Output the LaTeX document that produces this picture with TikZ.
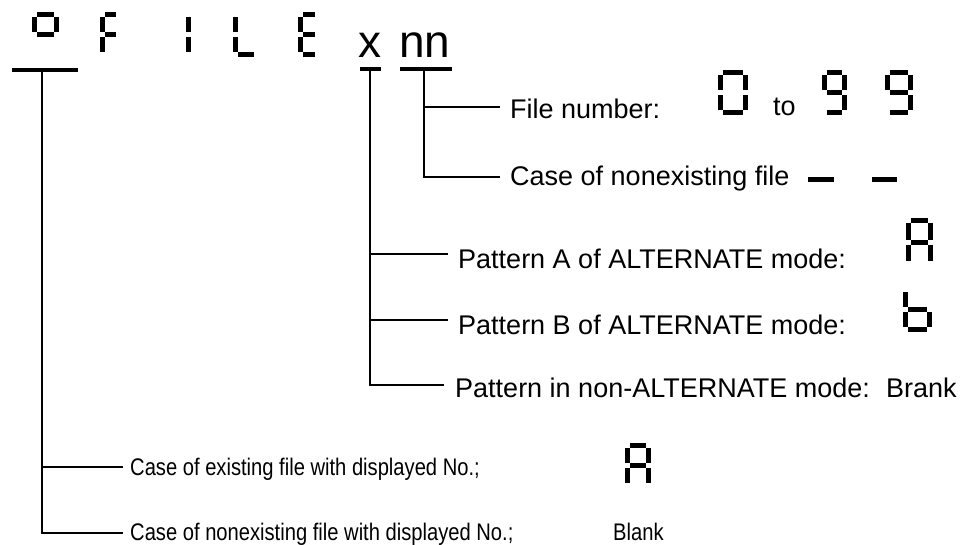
\documentclass[tikz,border=0pt]{standalone}
\usepackage{graphicx}
\usepackage{fontspec}
\setmainfont{Liberation Sans}
\tikzset{
  lbl/.style={anchor=base west, inner sep=0pt, font=\fontsize{27}{30}\selectfont},
  lblsm/.style={anchor=base west, inner sep=0pt, font=\fontsize{24}{28}\selectfont},
  big/.style={anchor=base, inner sep=0pt, font=\fontsize{46}{50}\selectfont},
  conn/.style={line width=2pt},
  ubar/.style={line width=4pt},
  segline/.style={line width=5pt},
  dashseg/.style={line width=5pt},
}
\newcommand\narrow[1]{\scalebox{0.84}[1]{#1}}
\def\sg{2.5}
\newcommand\SSDa{\draw[segline] (\sx+\sg,\sy) -- (\sx+\sw-\sg,\sy);}
\newcommand\SSDb{\draw[segline] (\sx+\sw,\sy+\sg) -- (\sx+\sw,\sy+0.5*\sh-\sg);}
\newcommand\SSDc{\draw[segline] (\sx+\sw,\sy+0.5*\sh+\sg) -- (\sx+\sw,\sy+\sh-\sg);}
\newcommand\SSDd{\draw[segline] (\sx+\sg,\sy+\sh) -- (\sx+\sw-\sg,\sy+\sh);}
\newcommand\SSDe{\draw[segline] (\sx,\sy+0.5*\sh+\sg) -- (\sx,\sy+\sh-\sg);}
\newcommand\SSDf{\draw[segline] (\sx,\sy+\sg) -- (\sx,\sy+0.5*\sh-\sg);}
\newcommand\SSDg{\draw[segline] (\sx+\sg,\sy+0.5*\sh) -- (\sx+\sw-\sg,\sy+0.5*\sh);}
\newcommand\ssd[5]{\def\sx{#1}\def\sy{#2}\def\sw{#3}\def\sh{#4}%
  \foreach \s in {#5}{\csname SSD\s\endcsname}}
\begin{document}
\begin{tikzpicture}[x=1pt,y=-1pt]
\useasboundingbox (0,0) rectangle (960,544);
% title characters
\ssd{34.5}{14.5}{22}{40}{a,b,f,g}
\ssd{102.5}{14.5}{16}{40}{a,f,e,g}
\ssd{188.5}{14.5}{0}{40}{f,e}
\ssd{235.5}{14.5}{21}{40}{f,e,d}
\ssd{300.5}{14.5}{17}{40}{a,f,e,g,d}
\node[big] (xch) at (370,57) {x};
\node[big] (nnch) at (425,57) {nn};
% underlines
\coordinate (obarL) at (12,70);  \coordinate (obarR) at (78,70);
\coordinate (xbarL) at (360,69); \coordinate (xbarR) at (381,69);
\coordinate (nbarL) at (400,69); \coordinate (nbarR) at (452,69);
\draw[ubar] (obarL) -- (obarR);
\draw[ubar] (xbarL) -- (xbarR);
\draw[ubar] (nbarL) -- (nbarR);
\coordinate (oroot) at (42,70);
\coordinate (xroot) at (370,69);
\coordinate (nroot) at (424,69);
% branch ends
\coordinate (fnj) at (500,107);
\coordinate (cnj) at (500,177);
\coordinate (paj) at (448,254);
\coordinate (pbj) at (448,320);
\coordinate (pnj) at (444,385);
\coordinate (cej) at (123,467);
\coordinate (cnej) at (123,533);
% labels
\node[lbl] (fn)  at (510,118) {File number:};
\node[lbl] (cn)  at (510,185) {Case of nonexisting file};
\node[lbl] (pa)  at (458,268) {Pattern A of ALTERNATE mode:};
\node[lbl] (pb)  at (458,334) {Pattern B of ALTERNATE mode:};
\node[lbl] (pn)  at (455,397) {Pattern in non-ALTERNATE mode:};
\node[lbl] (brank) at (886,397) {Brank};
\node[lblsm] (ce)  at (130,475) {\narrow{Case of existing file with displayed No.;}};
\node[lblsm] (cne) at (130,540) {\narrow{Case of nonexisting file with displayed No.;}};
\node[lblsm] (blank) at (613,540) {\narrow{Blank}};
\node[lbl] (to) at (773,115) {to};
% connectors
\draw[conn] (nroot) |- (fnj);
\draw[conn] (nroot) |- (cnj);
\draw[conn] (xroot) |- (paj);
\draw[conn] (xroot) |- (pbj);
\draw[conn] (xroot) |- (pnj);
\draw[conn] (oroot) |- (cej);
\draw[conn] (oroot) |- (cnej);
% display glyphs
\ssd{720.5}{72.5}{25}{40}{a,b,c,d,e,f}
\ssd{824.5}{72.5}{20}{40}{a,b,c,d,f,g}
\ssd{887.5}{72.5}{23}{40}{a,b,c,d,f,g}
\draw[dashseg] (808,179) -- (834,179);
\draw[dashseg] (872,179) -- (897,179);
\ssd{908.5}{220.5}{22}{43}{a,b,c,e,f,g}
\ssd{905.5}{289.5}{24}{40}{f,e,g,c,d}
\ssd{627.5}{445.5}{21}{40}{a,b,c,e,f,g}
\end{tikzpicture}
\end{document}
